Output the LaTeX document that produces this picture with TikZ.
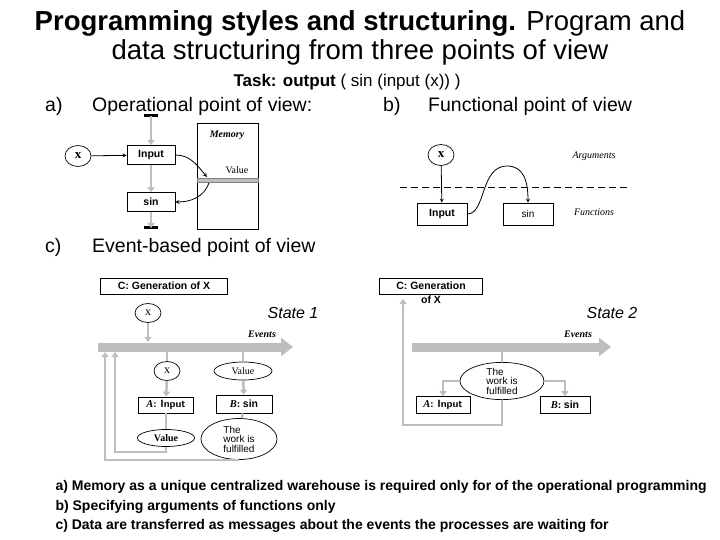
\documentclass[tikz,border=0pt]{standalone}
\usepackage{fontspec}
\setmainfont{Liberation Sans}
\newfontfamily\tmsfont{Liberation Serif}
\usepackage{tikz}
\usetikzlibrary{shapes,arrows}
\usetikzlibrary{arrows.meta,positioning}
\definecolor{flowgray}{RGB}{190,190,190}

\begin{document}
\begin{tikzpicture}[x=1pt,y=-1pt,
	box/.style={draw, line width=0.7pt, inner sep=1pt, font=\fontsize{10.5}{11}\selectfont\bfseries},
	xcirc/.style={draw, ellipse, line width=0.7pt, minimum width=26pt, minimum height=21pt, inner sep=0pt, font=\tmsfont\fontsize{13}{13}\selectfont},
	msg/.style={draw, ellipse, line width=0.7pt, fill=white, inner sep=0pt},
	gline/.style={draw=flowgray, line width=2.5pt},
	garrow/.style={gline, -{Triangle[length=5pt,width=7pt]}},
	evbar/.style={draw=flowgray, line width=9pt, -{Triangle[length=12pt,width=18pt]}},
	tlabel/.style={font=\tmsfont\itshape\fontsize{10}{10}\selectfont},
	head/.style={anchor=base west, inner sep=0pt, font=\fontsize{19.5}{20}\selectfont},
	tick/.style={line width=3pt}]
	\useasboundingbox (0,0) rectangle (720,540);
	% title
	\node[anchor=base, font=\fontsize{27.5}{28}\selectfont] (title1) at (360,31)
	    {\textbf{Programming styles and structuring.} Program and};
	\node[anchor=base, font=\fontsize{27.5}{28}\selectfont] (title2) at (360,60)
	    {data structuring from three points of view};
	\node[anchor=base, font=\fontsize{17}{17}\selectfont] (task) at (347,87)
	    {\textbf{Task: output} ( sin (input (x)) )};
	\node[head] (la) at (45,112) {a)};
	\node[head] (opv) at (92,112) {Operational point of view:};
	\node[head] (lb) at (383,112) {b)};
	\node[head] (fpv) at (428,112) {Functional point of view};

	% a) operational
	\coordinate (topa) at (151,116);
	\coordinate (bota) at (151,228);
	\node[xcirc, font=\tmsfont\bfseries\fontsize{13}{13}\selectfont] (xa) at (78,156) {x};
	\node[box, minimum width=48pt, minimum height=19pt] (inpa) at (151,155) {Input};
	\node[box, minimum width=48pt, minimum height=19pt] (sina) at (151,202) {sin};
	\node[draw, line width=0.7pt, minimum width=61pt, minimum height=106pt] (mem) at (227.5,176) {};
	\node[fill=flowgray, draw=gray, line width=0.3pt, minimum width=61pt, minimum height=4.5pt, inner sep=0pt] (cell) at (227.5,180) {};
	\node[tlabel, font=\tmsfont\bfseries\itshape\fontsize{10}{10}\selectfont] (memlbl) at (227,135) {Memory};
	\node[font=\tmsfont\fontsize{10}{10}\selectfont] (vallbl) at (237,170) {Value};
	\coordinate (valin) at (207,177);
	\coordinate (valout) at (209,183);
	\draw[tick] ([xshift=-7pt]topa) -- ([xshift=7pt]topa);
	\draw[tick] ([xshift=-7pt]bota) -- ([xshift=7pt]bota);
	\draw[garrow] (topa) -- (inpa);
	\draw[garrow] (inpa) -- (sina);
	\draw[garrow] (sina) -- (bota);
	\draw[-stealth, line width=0.8pt] (xa) -- (inpa);
	\draw[-stealth, line width=0.8pt] (inpa.east) to[out=0, in=130] (valin);
	\draw[-stealth, line width=0.8pt] (valout) to[out=-110, in=0] (sina.east);

	% b) functional
	\node[xcirc, font=\tmsfont\bfseries\fontsize{13}{13}\selectfont] (xb) at (441,155) {x};
	\node[box, minimum width=50pt, minimum height=22pt] (inpb) at (442,214) {Input};
	\node[box, minimum width=50pt, minimum height=22pt, font=\fontsize{10}{10}\selectfont] (sinb) at (528,214) {sin};
	\node[tlabel] (args) at (594,156) {Arguments};
	\node[tlabel] (funcs) at (594,212) {Functions};
	\coordinate (dl) at (400,187);
	\coordinate (dr) at (627,187);
	\draw[line width=0.7pt, dash pattern=on 7pt off 4pt] (dl) -- (dr);
	\draw[-stealth, line width=0.8pt] (xb) -- (inpb);
	\draw[-stealth, line width=0.8pt] (inpb.east) .. controls (486,214) and (480,166) .. (507,166)
	    .. controls (523,166) and (528,180) .. (sinb.north);

	% c) event based
	\node[head] (lc) at (45,252) {c)};
	\node[head] (ebv) at (92,252) {Event-based point of view};

	% state 1
	\node[box, minimum width=127pt, minimum height=16pt] (gen1) at (164,286) {C: Generation of X};
	\node[xcirc, font=\tmsfont\fontsize{12}{12}\selectfont, minimum height=19pt] (x1) at (148,313) {x};
	\node[font=\itshape\fontsize{16}{16}\selectfont] (st1) at (293,313) {State 1};
	\node[tlabel, font=\tmsfont\bfseries\itshape\fontsize{10}{10}\selectfont] (ev1) at (262,334) {Events};
	\coordinate (bar1s) at (98,347);
	\coordinate (bar1e) at (293,347);
	\draw[evbar] (bar1s) -- (bar1e);
	\node[xcirc, font=\tmsfont\fontsize{12}{12}\selectfont, minimum height=19pt] (xa1) at (167,371) {x};
	\node[box, minimum width=55pt, minimum height=16pt] (inp1) at (166,405) {\tmsfont\itshape A\upshape\sffamily: \textbf{Input}};
	\node[msg, minimum width=57pt, minimum height=17pt, font=\tmsfont\bfseries\fontsize{10}{10}\selectfont] (val1) at (166,438) {Value};
	\node[msg, minimum width=58pt, minimum height=18pt, font=\tmsfont\fontsize{10}{10}\selectfont] (val1b) at (243,371) {Value};
	\node[box, minimum width=56pt, minimum height=18pt] (sin1) at (244,404) {\tmsfont\itshape B\upshape: \fontspec{Liberation Sans}\bfseries sin};
	\node[msg, minimum width=76pt, minimum height=41pt, align=left, font=\fontsize{10}{9.5}\selectfont] (done1) at (239,439) {The\\work is\\fulfilled};
	\coordinate (x1bar) at (148,342);
	\coordinate (colA) at (167,352);
	\coordinate (colB) at (243,352);
	\coordinate (loopA) at (115,452);
	\coordinate (barA) at (115,352);
	\coordinate (loopB) at (105,352);
	\draw[garrow] (x1) -- (x1bar);
	\draw[gline] (colA) -- (xa1);
	\draw[garrow] (xa1) -- (inp1);
	\draw[gline] (inp1) -- (val1);
	\draw[garrow] (val1.south) |- (loopA) -- (barA);
	\draw[gline] (colB) -- (val1b);
	\draw[garrow] (val1b) -- (sin1);
	\draw[gline] (sin1) -- (done1);
	\draw[garrow] (done1.south) -| (loopB);

	% state 2
	\node[box, minimum width=103pt, minimum height=16pt] (gen2) at (431,286) {C: Generation};
	\node[font=\fontsize{10.5}{11}\selectfont\bfseries, inner sep=0pt, below=1pt of gen2] (gen2b) {of X};
	\node[font=\itshape\fontsize{16}{16}\selectfont] (st2) at (612,313) {State 2};
	\node[tlabel, font=\tmsfont\bfseries\itshape\fontsize{10}{10}\selectfont] (ev2) at (578,334) {Events};
	\coordinate (bar2s) at (412,347);
	\coordinate (bar2e) at (611,347);
	\draw[evbar] (bar2s) -- (bar2e);
	\node[msg, minimum width=84pt, minimum height=35pt, align=left, font=\fontsize{10}{9.5}\selectfont] (done2) at (502,381) {The\\work is\\fulfilled};
	\node[box, minimum width=54pt, minimum height=17pt] (inp2) at (443,405) {\tmsfont\itshape A\upshape\sffamily: \textbf{Input}};
	\node[box, minimum width=50pt, minimum height=17pt] (sin2) at (565,405) {\tmsfont\itshape B\upshape: \fontspec{Liberation Sans}\bfseries sin};
	\coordinate (hub2) at (502,352);
	\coordinate (loop2) at (403,425);
	\coordinate (gen2in) at (403,299);
	\draw[gline] (hub2) -- (done2);
	\draw[garrow] (done2.south) |- (loop2) -- (gen2in);
	\draw[garrow] (done2.west) -| (inp2.north);
	\draw[garrow] (done2.east) -| (sin2.north);

	% notes
	\node[anchor=base west, font=\fontsize{14}{14}\selectfont\bfseries] (n1) at (52,490)
	    {a)\ Memory as a unique centralized warehouse is required only for of the operational programming};
	\node[anchor=base west, font=\fontsize{14}{14}\selectfont\bfseries] (n2) at (52,510)
	    {b)\ Specifying arguments of functions only};
	\node[anchor=base west, font=\fontsize{14}{14}\selectfont\bfseries] (n3) at (52,529)
	    {c)\ Data are transferred as messages about the events the processes are waiting for};
\end{tikzpicture}
\end{document}
